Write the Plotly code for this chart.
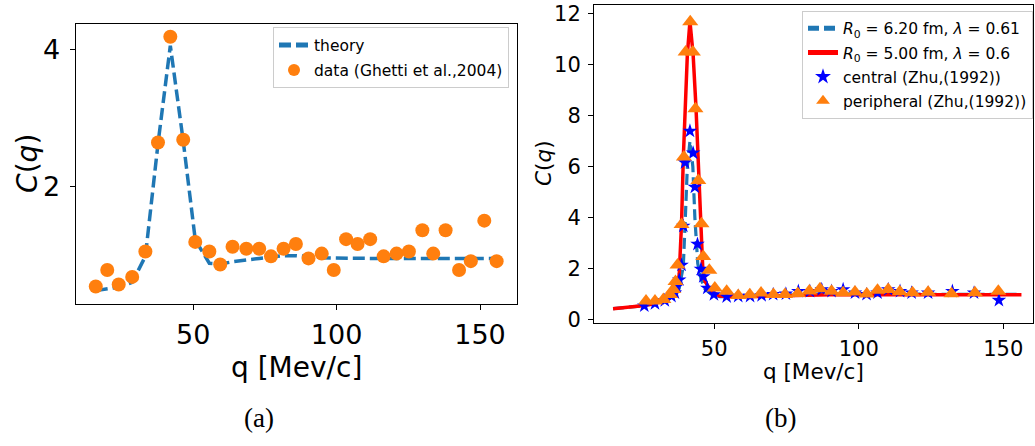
import plotly.graph_objects as go

# ---------------- Panel (a) data ----------------
a_q = [16.0, 20.0, 24.0, 28.7, 33.3, 37.7, 42.0, 46.5, 50.7, 55.6, 59.4, 63.7, 68.5,
       73.0, 77.1, 81.5, 85.8, 90.2, 94.8, 99.0, 103.3, 107.3, 111.7, 116.4, 120.9,
       125.2, 129.9, 133.7, 138.0, 142.7, 146.8, 151.5, 155.8]
a_data = [0.54, 0.78, 0.57, 0.68, 1.05, 2.64, 4.18, 2.68, 1.19, 1.05, 0.86, 1.12, 1.09,
          1.09, 0.98, 1.09, 1.16, 0.95, 1.02, 0.78, 1.23, 1.16, 1.23, 0.98, 1.02,
          1.05, 1.36, 1.02, 1.36, 0.78, 0.91, 1.50, 0.91]
a_theory = [0.48, 0.50, 0.53, 0.60, 0.98, 2.62, 4.05, 2.66, 1.22, 0.88, 0.87, 0.90, 0.92,
            0.95, 0.97, 0.99, 0.99, 0.97, 0.96, 0.955, 0.95, 0.95, 0.95, 0.95, 0.95,
            0.95, 0.95, 0.95, 0.95, 0.95, 0.95, 0.95, 0.95]

# ---------------- Panel (b) data ----------------
b_q_blue = [15, 20, 25, 30, 33, 35, 36.5, 37.9, 39.3, 40.0, 40.7, 41.6, 42.6, 43.3, 44.3,
            45.4, 46.8, 49.5, 52, 55, 60, 70, 80, 90, 100, 120, 140, 156.3]
b_blue = [0.43, 0.48, 0.54, 0.63, 0.72, 0.85, 1.0, 1.24, 2.1, 4.0, 6.0, 7.0, 6.0, 4.0, 2.2,
          1.6, 1.2, 0.95, 0.90, 0.90, 0.92, 0.97, 1.0, 1.02, 1.0, 0.99, 0.99, 0.99]

b_q_red = [15, 20, 25, 28, 31, 33, 34.7, 36, 37.4, 37.9, 38.3, 38.7, 39.3, 39.9, 40.7, 41.6,
           42.7, 43.7, 44.5, 45.4, 46.0, 46.8, 49.1, 51.9, 55, 60, 70, 80, 90, 100, 120,
           140, 156.3]
b_red = [0.43, 0.48, 0.54, 0.60, 0.68, 0.75, 0.86, 1.05, 1.30, 1.8, 2.6, 3.8, 6.35, 8.3,
         10.4, 11.7, 10.4, 8.3, 6.3, 3.8, 2.1, 1.5, 1.1, 0.93, 0.90, 0.90, 0.93, 0.96,
         0.98, 0.98, 0.98, 0.98, 0.98]

b_q_cent = [25.8, 29.5, 32.9, 35.2, 36.4, 37.0, 37.9, 38.7, 39.3, 39.9, 41.6, 42.7, 43.3,
            44.2, 45.4, 46.2, 47.6, 49.9, 54.3, 58.3, 62.4, 66.4, 70.4, 74.8, 79.1, 83.1,
            87.2, 90.6, 94.6, 98.7, 102.7, 106.5, 110.2, 114.3, 118.3, 124.0, 132.4,
            139.9, 148.5]
b_cent = [0.54, 0.63, 0.75, 0.92, 1.05, 1.30, 1.56, 2.14, 3.67, 6.16, 7.40, 6.54, 5.20,
          2.96, 1.98, 1.69, 1.24, 0.98, 0.90, 0.92, 0.92, 0.95, 0.99, 1.01, 1.11, 1.11,
          1.18, 1.11, 1.18, 1.05, 0.99, 1.05, 1.18, 1.11, 1.05, 1.05, 1.11, 1.05, 0.76]

b_q_peri = [26.4, 29.5, 32.4, 34.7, 35.8, 36.6, 37.3, 38.7, 39.5, 40.1, 41.7, 42.6, 43.5,
            44.5, 45.6, 46.2, 48.3, 50.2, 54.3, 58.3, 62.3, 66.2, 70.5, 74.5, 78.9, 82.9,
            86.6, 90.6, 94.6, 98.7, 102.8, 106.5, 110.2, 114.2, 118.6, 124.0, 132.1,
            140.2, 148.3]
b_peri = [0.73, 0.73, 0.79, 0.99, 1.18, 1.50, 2.14, 3.73, 6.38, 10.5, 11.69, 10.5, 8.27,
          5.46, 3.76, 2.48, 1.94, 1.24, 1.11, 0.95, 0.98, 1.04, 0.99, 0.99, 1.02, 1.12,
          1.21, 1.11, 1.05, 1.08, 1.00, 1.15, 1.18, 1.09, 1.05, 1.07, 1.01, 1.05, 1.11]

# tick values / labels
a_xticks = [50, 100, 150]
a_yticks = [2, 4]
b_xticks = [50, 100, 150]
b_yticks = [0, 2, 4, 6, 8, 10, 12]

W, H = 1035, 446
BLUE = "#1f77b4"
ORANGE = "#ff7f0e"
FONT = "DejaVu Sans"

fig = go.Figure()

# ---- panel (a)
fig.add_trace(go.Scatter(x=a_q, y=a_theory, mode="lines", name="theory",
                         line=dict(color=BLUE, width=3.5, dash="12px,5px"),
                         xaxis="x", yaxis="y", legend="legend", legendgroup="a1"))
fig.add_trace(go.Scatter(x=a_q, y=a_data, mode="markers", name="data (Ghetti et al.,2004)",
                         marker=dict(color=ORANGE, size=14, symbol="circle"),
                         xaxis="x", yaxis="y", legend="legend", legendgroup="a2"))

# ---- panel (b)
fig.add_trace(go.Scatter(x=b_q_blue, y=b_blue, mode="lines",
                         name="<i>R</i><sub>0</sub> = 6.20 fm, <i>λ</i> = 0.61",
                         line=dict(color=BLUE, width=3.2, dash="11px,5px"),
                         xaxis="x2", yaxis="y2", legend="legend2", legendgroup="b1"))
fig.add_trace(go.Scatter(x=b_q_red, y=b_red, mode="lines",
                         name="<i>R</i><sub>0</sub> = 5.00 fm, <i>λ</i> = 0.6",
                         line=dict(color="#ff0000", width=3.5),
                         xaxis="x2", yaxis="y2", legend="legend2", legendgroup="b2"))
fig.add_trace(go.Scatter(x=b_q_cent, y=b_cent, mode="markers", name="central (Zhu,(1992))",
                         marker=dict(color="#0000ff", size=11, symbol="star",
                                     line=dict(width=0)),
                         xaxis="x2", yaxis="y2", legend="legend2", legendgroup="b3"))
fig.add_trace(go.Scatter(x=b_q_peri, y=b_peri, mode="markers", name="peripheral (Zhu,(1992))",
                         marker=dict(color=ORANGE, size=14, symbol="triangle-up",
                                     line=dict(width=0)),
                         xaxis="x2", yaxis="y2", legend="legend2", legendgroup="b4"))

def px_x(p):
    return p / W

def px_y(p):
    return 1 - p / H

axis_common = dict(showline=True, linecolor="#000000", linewidth=1, mirror=True,
                   ticks="outside", ticklen=5, tickwidth=1, tickcolor="#000000",
                   showgrid=False, zeroline=False, fixedrange=True)

fig.update_layout(
    width=W, height=H,
    margin=dict(l=0, r=0, t=0, b=0),
    paper_bgcolor="white", plot_bgcolor="white",
    font=dict(family=FONT, color="#000000"),
    xaxis=dict(domain=[px_x(75.7), px_x(516.7)], range=[9.0, 162.8], anchor="y",
               tickvals=a_xticks, tickfont=dict(size=27), ticklabelstandoff=2,
               **axis_common),
    yaxis=dict(domain=[px_y(309.3), px_y(22.7)], range=[0.29, 4.364], anchor="x",
               tickvals=a_yticks, tickfont=dict(size=27), ticklabelstandoff=4,
               **axis_common),
    xaxis2=dict(domain=[px_x(594), px_x(1033.3)], range=[8.4, 160.4], anchor="y2",
                tickvals=b_xticks, tickfont=dict(size=21), ticklabelstandoff=2,
                **axis_common),
    yaxis2=dict(domain=[px_y(329.3), px_y(2.7)], range=[-0.14, 12.36], anchor="x2",
                tickvals=b_yticks, tickfont=dict(size=21), ticklabelstandoff=3,
                **axis_common),
    legend=dict(x=px_x(509), y=px_y(26), xanchor="right", yanchor="top",
                bgcolor="rgba(255,255,255,0.8)", bordercolor="#cccccc", borderwidth=1,
                font=dict(size=15.5, family=FONT), tracegroupgap=2,
                itemsizing="constant"),
    legend2=dict(x=px_x(1033), y=px_y(9), xanchor="right", yanchor="top",
                 bgcolor="rgba(255,255,255,0.8)", bordercolor="#cccccc", borderwidth=1,
                 font=dict(size=15.5, family=FONT), tracegroupgap=1,
                 itemsizing="constant"),
    showlegend=True,
)

annotations = [
    dict(text="q [Mev/c]", x=px_x(296.2), y=px_y(375), font=dict(size=28)),
    dict(text="<i>C</i>(<i>q</i>)", x=px_x(28), y=px_y(166), font=dict(size=28),
         textangle=-90),
    dict(text="q [Mev/c]", x=px_x(813.7), y=px_y(379), font=dict(size=21.5)),
    dict(text="<i>C</i>(<i>q</i>)", x=px_x(544), y=px_y(166), font=dict(size=21.5),
         textangle=-90),
    dict(text="(a)", x=px_x(259), y=px_y(427),
         font=dict(size=27, family="Liberation Serif")),
    dict(text="(b)", x=px_x(780), y=px_y(427),
         font=dict(size=27, family="Liberation Serif")),
]
for a in annotations:
    a.update(xref="paper", yref="paper", xanchor="center", yanchor="middle",
             showarrow=False)
    a["font"].setdefault("family", FONT)
    a["font"]["color"] = "#000000"
fig.update_layout(annotations=annotations)

fig.write_html("out.html")
